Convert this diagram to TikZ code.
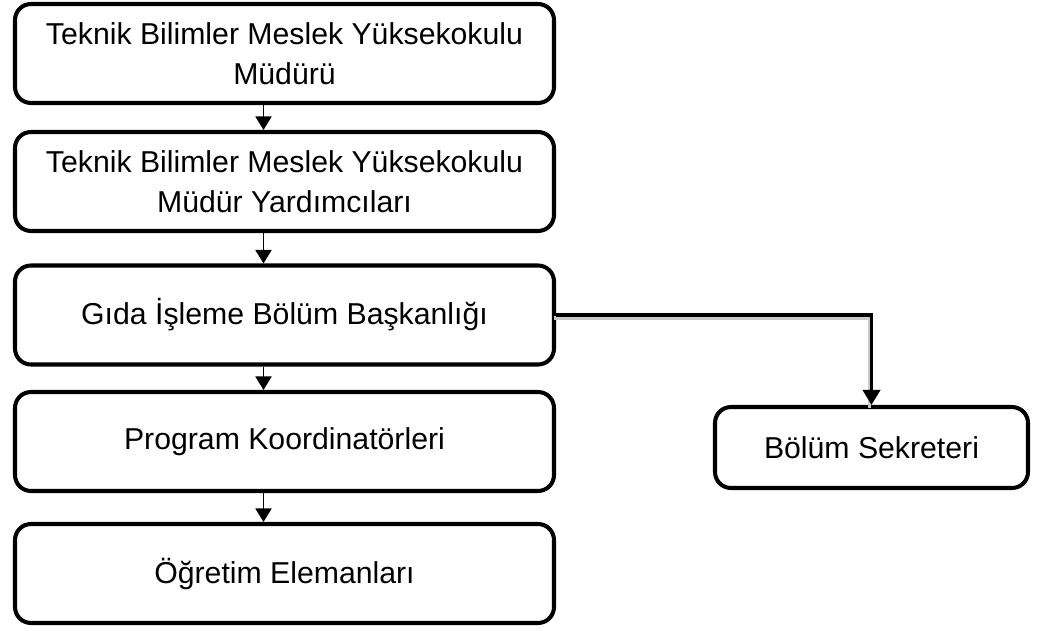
\documentclass[tikz,border=0pt]{standalone}
\usepackage{fontspec}
\setmainfont{Liberation Sans}
\usetikzlibrary{arrows.meta}
\definecolor{shadowgray}{HTML}{C8C8C8}

\begin{document}
\begin{tikzpicture}[x=1cm,y=1cm]
  \tikzset{
    unit/.style={draw=black,line width=2.3pt,rounded corners=0.32cm,
      align=center,inner sep=0pt,
      font=\fontsize{17.2}{22.8}\selectfont,text=black},
    mainunit/.style={unit,minimum width=10.78cm,minimum height=1.98cm},
    sideunit/.style={unit,minimum width=6.26cm,minimum height=1.62cm},
    down/.style={line width=1.1pt,-{Triangle[length=0.27cm,width=0.32cm]}},
    branch/.style={line width=2.2pt,-{Triangle[length=0.3cm,width=0.34cm]},
      preaction={draw=shadowgray,line width=2.2pt,-,
        transform canvas={shift={(-0.04,-0.06)}}}},
  }
  \useasboundingbox (0,0) rectangle (20.84,12.6);

  % Left column of units.
  \node[mainunit] (mudur) at (5.69,11.53)
    {Teknik Bilimler Meslek Yüksekokulu\\Müdürü};
  \node[mainunit] (yard) at (5.69,8.97)
    {Teknik Bilimler Meslek Yüksekokulu\\Müdür Yardımcıları};
  \node[mainunit] (baskan) at (5.69,6.30) {Gıda İşleme Bölüm Başkanlığı};
  \node[mainunit] (koord) at (5.69,3.77) {Program Koordinatörleri};
  \node[mainunit] (ogret) at (5.69,1.13) {Öğretim Elemanları};

  % Secretary on the right.
  \node[sideunit] (sekr) at (17.43,3.65) {Bölüm Sekreteri};

  \foreach \from/\to in {mudur/yard,yard/baskan,baskan/koord,koord/ogret} {
    \draw[down] ([xshift=-0.42cm]\from.south) -- ([xshift=-0.42cm]\to.north);
  }
  \draw[branch] (baskan.east) -| (sekr.north);
\end{tikzpicture}
\end{document}
